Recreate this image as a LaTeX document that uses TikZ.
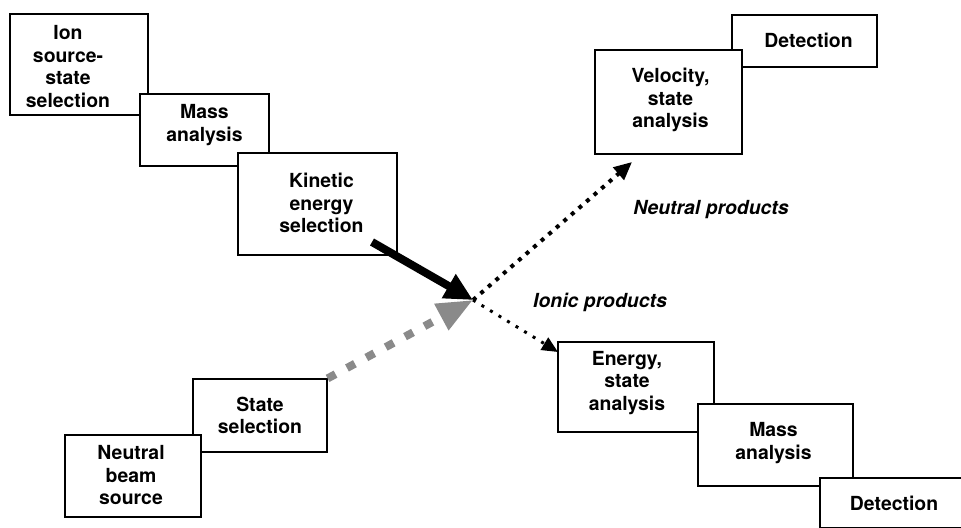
\documentclass[tikz,border=0pt]{standalone}
\usepackage{fontspec}
\setmainfont{TeX Gyre Heros}
\usetikzlibrary{arrows.meta, calc, fit}
\definecolor{beamgray}{HTML}{8A8A8A}
\tikzset{
  stagebox/.style={draw, fill=white, line width=0.6pt, inner sep=0pt},
  stagetext/.style={font=\fontsize{9.7}{11.3}\selectfont\bfseries,
                    align=center, inner sep=0pt},
  tag/.style={font=\fontsize{9.7}{11.3}\selectfont\bfseries\itshape,
              inner sep=0pt},
  ionbeam/.style={-{Triangle[length=14pt, width=13pt]}, line width=4pt},
  neutbeam/.style={-{Triangle[length=18pt, width=14pt]}, beamgray,
                   line width=4pt, dash pattern=on 4.5pt off 6.5pt},
  neutprod/.style={-{Triangle[length=9pt, width=8pt]}, line width=2pt,
                   dash pattern=on 2pt off 3pt},
  ionprod/.style={-{Triangle[length=8pt, width=7pt]}, line width=1.5pt,
                  dash pattern=on 1.5pt off 3.5pt}
}
\newcommand{\stage}[5][0,0]{%
  \node[stagebox, fit={#3 #4}] (#2) {};
  \node[stagetext] (#2-t) at ($(#2.center)+(#1)$) {#5};
}
\begin{document}
\begin{tikzpicture}[x=0.5pt, y=-0.5pt, >=Stealth]
  \clip (0,0) rectangle (961,527);
  % ion beam line
  \stage[-11,2]{ion}{(10,14)}{(148,115)}{Ion\\source-\\state\\selection}
  \stage[0,-5]{imass}{(140,94)}{(269,166)}{Mass\\analysis}
  \stage[4,-1]{kin}{(238,153)}{(397,255)}{Kinetic\\energy\\selection}
  % neutral products
  \stage[4,-1]{ndet}{(732,15)}{(877,67)}{Detection}
  \stage[2,-2]{vel}{(595,50)}{(742,154)}{Velocity,\\state\\analysis}
  % ionic products
  \stage[-9,-4]{ener}{(558,342)}{(714,432)}{Energy,\\state\\analysis}
  \stage[-2,-2]{pmass}{(698,404)}{(853,486)}{Mass\\analysis}
  \stage{pdet}{(820,478)}{(968,528)}{Detection}
  % neutral beam line
  \stage{state}{(193,379)}{(327,452)}{State\\selection}
  \stage[-2,-1]{nsrc}{(65,435)}{(201,517)}{Neutral\\beam\\source}

  \coordinate (hit) at (473,300);
  \coordinate (kinout) at (372,242);
  \coordinate (neuend) at (632,162);
  \coordinate (ionend) at (558,352);

  \draw[neutbeam] (state.north east) -- (hit);
  \draw[ionbeam] (kinout) -- (hit);
  \draw[neutprod] (hit) -- (neuend);
  \draw[ionprod] (hit) -- (ionend);

  \node[tag] (neutag) at (711,210) {Neutral products};
  \node[tag] (iontag) at (600,302) {Ionic products};
\end{tikzpicture}
\end{document}
